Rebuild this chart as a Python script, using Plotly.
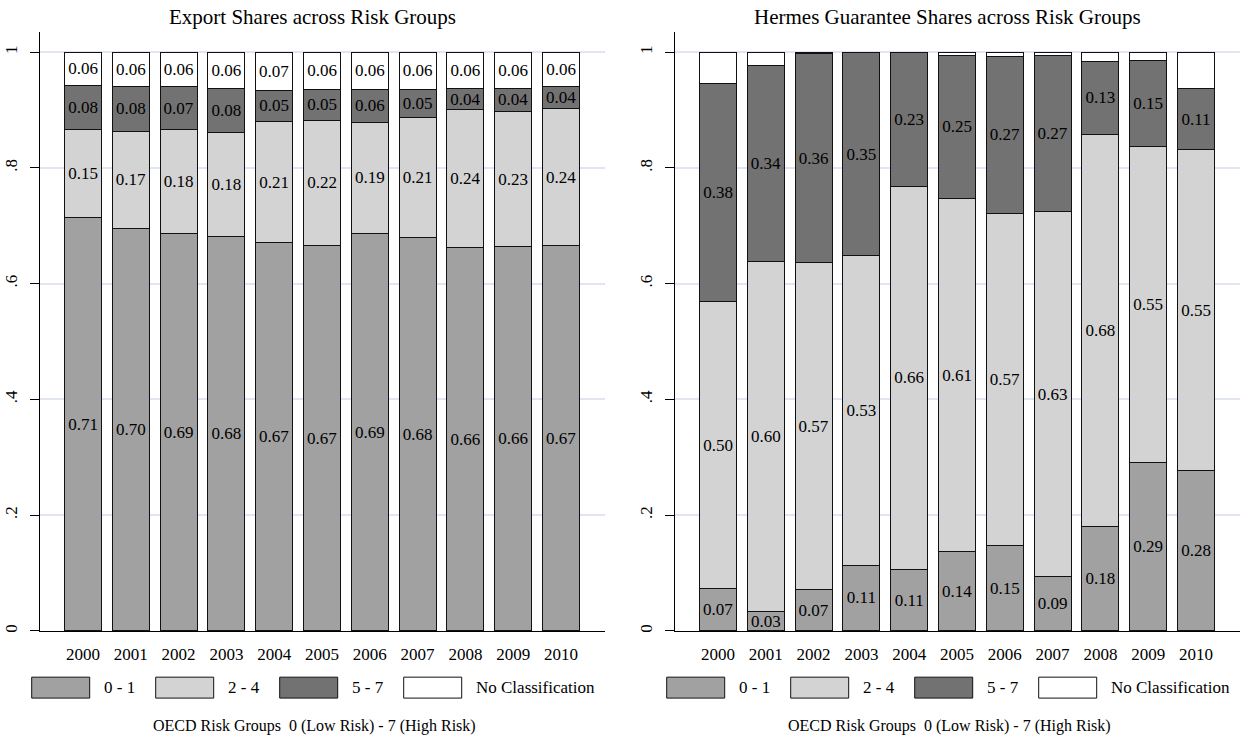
import plotly.graph_objects as go
from plotly.subplots import make_subplots

# años y grupos de riesgo
years = [2000, 2001, 2002, 2003, 2004, 2005, 2006, 2007, 2008, 2009, 2010]
groups = ["0 - 1", "2 - 4", "5 - 7", "No Classification"]
colors = ["#a1a1a1", "#d3d3d3", "#727272", "#ffffff"]

# Export shares (izquierda)
exp_01 = [0.714, 0.696, 0.686, 0.682, 0.671, 0.666, 0.687, 0.680, 0.662, 0.664, 0.666]
exp_24 = [0.152, 0.167, 0.181, 0.180, 0.209, 0.216, 0.192, 0.207, 0.239, 0.233, 0.236]
exp_57 = [0.076, 0.078, 0.073, 0.076, 0.054, 0.054, 0.057, 0.049, 0.036, 0.041, 0.039]
exp_nc = [0.058, 0.059, 0.060, 0.062, 0.066, 0.064, 0.064, 0.064, 0.063, 0.062, 0.059]

# Hermes guarantee shares (derecha)
her_01 = [0.073, 0.034, 0.071, 0.114, 0.107, 0.137, 0.148, 0.094, 0.180, 0.291, 0.277]
her_24 = [0.496, 0.604, 0.566, 0.534, 0.661, 0.610, 0.574, 0.630, 0.678, 0.546, 0.554]
her_57 = [0.376, 0.339, 0.360, 0.351, 0.231, 0.248, 0.271, 0.270, 0.126, 0.149, 0.106]
her_nc = [0.055, 0.023, 0.003, 0.001, 0.001, 0.005, 0.007, 0.006, 0.016, 0.014, 0.063]

titles = ["Export Shares across Risk Groups", "Hermes Guarantee Shares across Risk Groups"]
note = "OECD Risk Groups  0 (Low Risk) - 7 (High Risk)"
yticks = [0, 0.2, 0.4, 0.6, 0.8, 1]
ytick_text = ["0", ".2", ".4", ".6", ".8", "1"]

W, H = 1240, 740
FONT = "Liberation Serif"
FS = 17


def px_x(p):
    return p / W


def px_y(p):
    return 1 - p / H


fig = make_subplots(rows=1, cols=2)

panels = [
    ([exp_01, exp_24, exp_57, exp_nc], [True, True, True, True]),
    ([her_01, her_24, her_57, her_nc], [True, True, True, False]),
]

for c, (series, labelled) in enumerate(panels, start=1):
    for name, vals, col, lab in zip(groups, series, colors, labelled):
        fig.add_trace(go.Bar(
            x=years, y=vals, name=name, width=0.775,
            marker=dict(color=col, line=dict(color="#111111", width=1)),
            texttemplate="%{y:.2f}" if lab else None,
            textposition="inside", insidetextanchor="middle",
            constraintext="none", textangle=0,
            textfont=dict(family=FONT, size=FS, color="black"),
            showlegend=False, hoverinfo="skip",
        ), row=1, col=c)

# dominios en pixeles
x_domains = [(40, 605), (675, 1240)]
y_top, y_zero = 31.7, 632.7

fig.update_layout(
    width=W, height=H, barmode="stack",
    margin=dict(l=0, r=0, t=0, b=0),
    plot_bgcolor="white", paper_bgcolor="white",
    font=dict(family=FONT, size=FS, color="black"),
)

for i, (a, b) in enumerate(x_domains, start=1):
    fig.update_xaxes(
        domain=[px_x(a), px_x(b)], range=[1999.1, 2010.92],
        tickvals=years, ticktext=[str(y) for y in years],
        ticks="", showgrid=False, zeroline=False,
        showline=True, linecolor="black", linewidth=1,
        ticklabelstandoff=8,
        tickfont=dict(family=FONT, size=FS, color="black"),
        row=1, col=i)
    fig.update_yaxes(
        domain=[px_y(y_zero), px_y(y_top)], range=[0, 1.0355],
        tickvals=yticks, ticktext=ytick_text, tickangle=-90,
        ticks="outside", ticklen=9, tickcolor="black", tickwidth=1,
        showgrid=True, gridcolor="#e1e5f2", gridwidth=1.5, zeroline=False,
        showline=True, linecolor="black", linewidth=1,
        ticklabelstandoff=6,
        tickfont=dict(family=FONT, size=FS, color="black"),
        row=1, col=i)

# titulos, leyenda dibujada a mano y nota
shapes = []
annotations = []
for i, (a, b) in enumerate(x_domains):
    center = (a + b) / 2 - 10
    annotations.append(dict(
        text=titles[i], x=px_x(center), y=px_y(17), xref="paper", yref="paper",
        xanchor="center", yanchor="middle", showarrow=False,
        font=dict(family=FONT, size=21, color="black")))
    annotations.append(dict(
        text=note, x=px_x(center + 2), y=px_y(728), xref="paper", yref="paper",
        xanchor="center", yanchor="middle", showarrow=False,
        font=dict(family=FONT, size=16, color="black")))
    for k, (name, col) in enumerate(zip(groups, colors)):
        x0 = a - 8.3 + 124 * k
        shapes.append(dict(
            type="rect", xref="paper", yref="paper",
            x0=px_x(x0), x1=px_x(x0 + 58), y0=px_y(700), y1=px_y(679),
            fillcolor=col, line=dict(color="#111111", width=1)))
        annotations.append(dict(
            text=name, x=px_x(x0 + 70), y=px_y(689.5), xref="paper", yref="paper",
            xanchor="left", yanchor="middle", showarrow=False,
            font=dict(family=FONT, size=FS, color="black")))

fig.update_layout(shapes=shapes, annotations=annotations)

fig.write_html("out.html", config={"displayModeBar": False},
               post_script="document.body.style.margin='0';")
